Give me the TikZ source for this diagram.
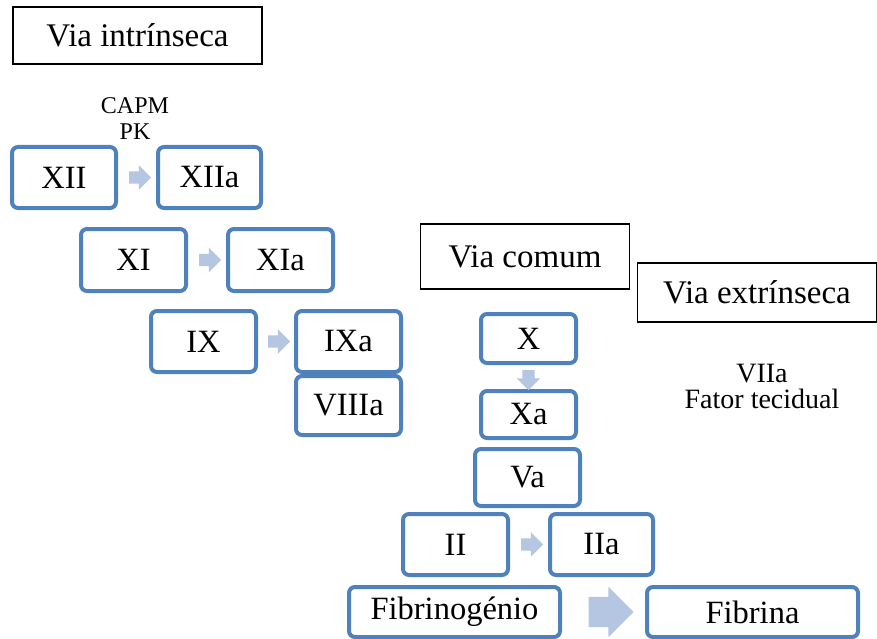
\documentclass[tikz,border=0pt]{standalone}
\usepackage{fontspec}
\setmainfont{Liberation Serif}
\usetikzlibrary{shapes.arrows, calc}
\definecolor{azul}{RGB}{79,129,189}
\definecolor{azulclaro}{RGB}{180,198,226}

\begin{document}
\begin{tikzpicture}[x=1pt, y=-1pt, every node/.style={inner sep=0pt}]
  \tikzset{via/.style={rectangle, draw=black, line width=1.5pt, font=\fontsize{33}{38}\selectfont}}
  \tikzset{fac/.style={rectangle, draw=azul, line width=4pt, rounded corners=6pt, fill=white, minimum width=105pt, minimum height=61pt, font=\fontsize{32.5}{38}\selectfont}}
  \tikzset{seta/.style={single arrow, fill=azulclaro, draw=none, inner xsep=0pt, inner ysep=6pt, single arrow head extend=6pt, single arrow head indent=0pt, minimum height=22pt}}
  \tikzset{cof/.style={align=center, font=\fontsize{24}{26}\selectfont}}
  \useasboundingbox (0,0) rectangle (877,639);
  % titulos
  \node[via, minimum width=249pt, minimum height=57pt] (vint) at (137.5, 35.5) {Via intrínseca};
  \node[via, minimum width=209pt, minimum height=65pt] (vcom) at (525.0, 256.5) {Via comum};
  \node[via, minimum width=239pt, minimum height=59pt] (vext) at (757.0, 292.5) {Via extrínseca};
  % cofatores
  \node[cof] (capm) at (135.0, 119.0) {CAPM\\PK};
  \node[cof, font=\fontsize{28}{26}\selectfont] (ft) at (762.0, 386.0) {VIIa\\Fator tecidual};
  % fatores
  \node[fac, minimum width=104pt] (f12) at (64.0, 177.5) {XII};
  \node[fac, minimum width=103pt] (f12a) at (209.5, 177.5) {XIIa};
  \node[fac, minimum height=62pt] (f11) at (133.5, 260.0) {XI};
  \node[fac, minimum height=62pt] (f11a) at (280.5, 260.0) {XIa};
  \node[fac] (f9) at (203.5, 341.5) {IX};
  \node[fac] (f9a) at (348.5, 341.5) {IXa};
  \node[fac, minimum height=59pt] (f8a) at (348.5, 405.5) {VIIIa};
  \node[fac, minimum width=95pt, minimum height=49pt] (f10) at (528.5, 338.5) {X};
  \node[fac, minimum width=95pt, minimum height=47pt] (f10a) at (528.5, 414.5) {Xa};
  \node[fac, minimum height=57pt] (f5a) at (527.5, 477.5) {Va};
  \node[fac] (f2) at (455.5, 544.5) {II};
  \node[fac, minimum width=103pt] (f2a) at (601.5, 544.5) {IIa};
  \node[fac, minimum width=211pt, minimum height=50pt] (fbg) at (454.5, 612.0) {Fibrinogénio};
  \node[fac, minimum width=211pt, minimum height=50pt] (fbn) at (752.5, 612.0) {Fibrina};
  % setas
  \node[seta] (s12) at ($(f12.east)!0.5!(f12a.west)$) {};
  \node[seta] (s11) at ($(f11.east)!0.5!(f11a.west)$) {};
  \node[seta] (s9) at ($(f9.east)!0.5!(f9a.west)$) {};
  \node[seta, shape border rotate=270, inner xsep=6pt, inner ysep=0pt, minimum height=20pt, single arrow head extend=5.5pt] (s10) at ($(f10.south)!0.5!(f10a.north)$) {};
  \node[seta] (s2) at ($(f2.east)!0.5!(f2a.west)$) {};
  \node[seta, inner ysep=15pt, single arrow head extend=10pt, minimum height=45pt] (sfb) at ($(fbg.east)!0.5!(fbn.west)$) {};
\end{tikzpicture}
\end{document}
